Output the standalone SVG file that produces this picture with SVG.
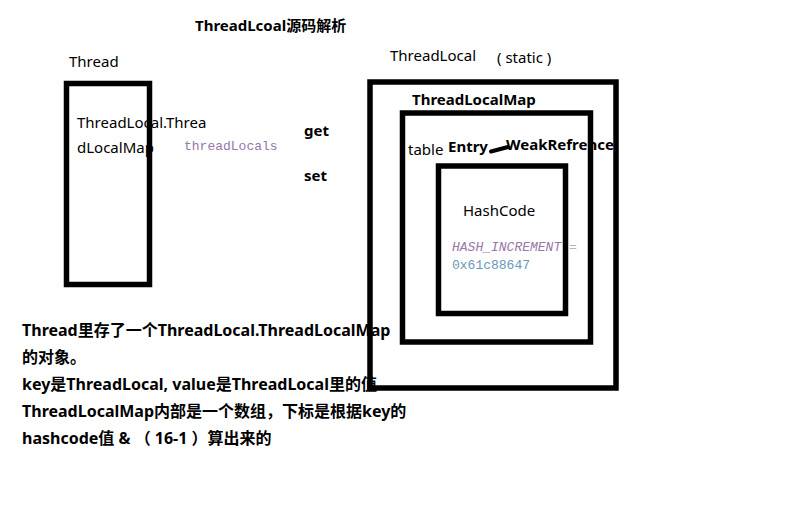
<svg xmlns="http://www.w3.org/2000/svg" width="795" height="507" viewBox="0 0 795 507">
<style>
.t{font-family:"Noto Sans","Noto Sans CJK SC",sans-serif;font-size:15px;fill:#000}
.b{font-weight:bold}
.n{font-size:16px}
.m{font-family:"Liberation Mono",monospace;font-size:13px}
.box{fill:none;stroke:#000;stroke-width:5.5}
</style>
<rect width="795" height="507" fill="#fff"/>
<text class="t b" x="195" y="31">ThreadLcoal源码解析</text>
<g id="notes">
<text class="t b n" x="22" y="336">Thread里存了一个ThreadLocal.ThreadLocalMap</text>
<text class="t b n" x="22" y="363">的对象。</text>
<text class="t b n" x="22" y="390">key是ThreadLocal, value是ThreadLocal里的值</text>
<text class="t b n" x="22" y="417">ThreadLocalMap内部是一个数组，下标是根据key的</text>
<text class="t b n" x="22" y="444">hashcode值 &amp; （ 16-1 ）算出来的</text>
</g>
<g id="thread">
<text class="t" x="69" y="67">Thread</text>
<text class="t" x="77" y="128">ThreadLocal.Threa</text>
<text class="t" x="77" y="153">dLocalMap</text>
<rect class="box" x="66.5" y="83.5" width="83" height="201"/>
<text class="m" x="184" y="150" fill="#9876aa">threadLocals</text>
</g>
<g id="ops">
<text class="t b" x="304" y="136">get</text>
<text class="t b" x="304" y="181">set</text>
</g>
<g id="threadlocal">
<text class="t" x="390" y="61">ThreadLocal</text>
<text class="t" x="497" y="63" font-size="15.5">( static )</text>
<rect class="box" x="370" y="82" width="246" height="306"/>
</g>
<g id="threadlocalmap">
<text class="t b" x="412" y="105">ThreadLocalMap</text>
<rect class="box" x="402.5" y="113" width="188" height="229"/>
<text class="t" x="408" y="155">table</text>
<text class="t b" x="448" y="152">Entry</text>
<text class="t b" x="506" y="150">WeakRefrence</text>
</g>
<g id="connectors">
<line x1="491" y1="151.5" x2="508" y2="147" stroke="#000" stroke-width="4" stroke-linecap="round"/>
</g>
<g id="hashcode">
<text class="t" x="463" y="216">HashCode</text>
<text class="m" x="452" y="251"><tspan fill="#9876aa" font-style="italic">HASH_INCREMENT</tspan><tspan fill="#a9b7c6"> =</tspan></text>
<text class="m" x="452" y="269" fill="#6897bb">0x61c88647</text>
<rect class="box" x="438.5" y="166" width="127" height="147.5"/>
</g>
</svg>
